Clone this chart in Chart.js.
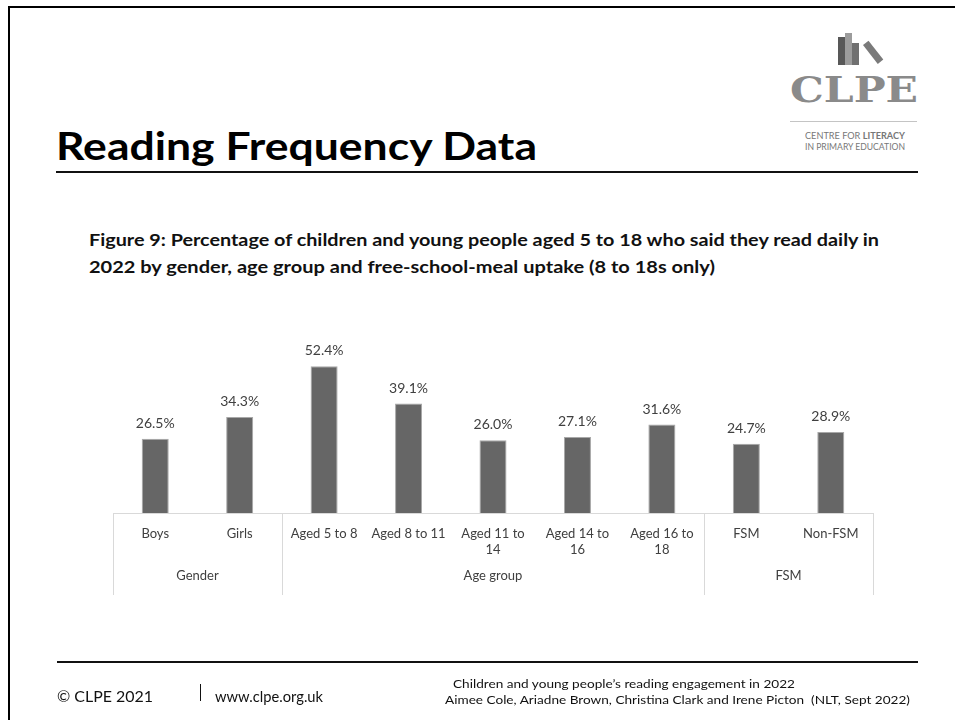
<!DOCTYPE html>
<html>
<head>
<meta charset="utf-8">
<script src="https://cdn.jsdelivr.net/npm/chart.js@4"></script>
<style>
  html, body { margin:0; padding:0; background:#fff; }
  body { width:955px; height:720px; position:relative; overflow:hidden; font-family: Lato, "Open Sans", sans-serif; }
  .abs { position:absolute; white-space:nowrap; line-height:1; }
  .fit { transform-origin: 0 0; }
  #chart { position:absolute; left:0; top:0; }
</style>
</head>
<body>
<!-- slide frame -->
<div class="abs" style="left:8px;top:6px;width:947px;height:2px;background:#000"></div>
<div class="abs" style="left:8px;top:6px;width:2px;height:714px;background:#000"></div>

<!-- title -->
<div class="abs fit" data-w="481" style="left:56px;top:126px;font-weight:700;font-size:39px;color:#000">Reading Frequency Data</div>
<div class="abs" style="left:56px;top:171px;width:862px;height:2px;background:#111"></div>

<!-- logo -->
<div class="abs" style="left:838px;top:37px;width:7px;height:28px;background:#585858"></div>
<div class="abs" style="left:845px;top:33px;width:7px;height:32px;background:#9c9c9c"></div>
<div class="abs" style="left:852px;top:43px;width:7px;height:22px;background:#707070"></div>
<div class="abs" style="left:863px;top:45px;width:7px;height:24px;background:#7a7a7a;transform:rotate(-38deg);transform-origin:0 0"></div>
<div class="abs fit" data-w="128" style="left:790px;top:72px;font-family:'DejaVu Serif',serif;font-weight:700;font-size:35px;color:#8a8a8a">CLPE</div>
<div class="abs" style="left:790px;top:121px;width:127px;height:1px;background:#c4c4c4"></div>
<div class="abs fit" data-w="100" style="left:805px;top:131px;font-size:9px;color:#777">CENTRE FOR <b>LITERACY</b></div>
<div class="abs fit" data-w="100" style="left:805px;top:142px;font-size:9px;color:#777">IN PRIMARY EDUCATION</div>

<!-- caption -->
<div class="abs fit" data-w="790" style="left:89px;top:231px;font-weight:700;font-size:17px;color:#111">Figure 9: Percentage of children and young people aged 5 to 18 who said they read daily in</div>
<div class="abs fit" data-w="626" style="left:89px;top:258px;font-weight:700;font-size:17px;color:#111">2022 by gender, age group and free-school-meal uptake (8 to 18s only)</div>

<canvas id="chart" width="955" height="720"></canvas>

<!-- footer -->
<div class="abs" style="left:57px;top:661px;width:861px;height:2px;background:#111"></div>
<div class="abs fit" data-w="96" style="left:57px;top:689px;font-size:15px;color:#111">© CLPE 2021</div>
<div class="abs" style="left:200px;top:684px;width:1px;height:17px;background:#111"></div>
<div class="abs fit" data-w="108" style="left:215px;top:689px;font-size:15px;color:#111">www.clpe.org.uk</div>
<div class="abs fit" data-w="342" style="left:453px;top:678px;font-size:12px;color:#111">Children and young people’s reading engagement in 2022</div>
<div class="abs fit" data-w="465" style="left:445px;top:694px;font-size:12px;color:#111">Aimee Cole, Ariadne Brown, Christina Clark and Irene Picton&nbsp; (NLT, Sept 2022)</div>

<script>
// ---- data ----
const categories = ['Boys', 'Girls', 'Aged 5 to 8', 'Aged 8 to 11', ['Aged 11 to', '14'], ['Aged 14 to', '16'], ['Aged 16 to', '18'], 'FSM', 'Non-FSM'];
const values = [26.5, 34.3, 52.4, 39.1, 26.0, 27.1, 31.6, 24.7, 28.9];
const groups = ['Gender', 'Age group', 'FSM'];
const groupSizes = [2, 5, 2];

// horizontally fit texts to measured widths
document.querySelectorAll('.fit').forEach(el => {
  const target = parseFloat(el.dataset.w);
  const w = el.getBoundingClientRect().width;
  el.style.transform = 'scaleX(' + (target / w) + ')';
});

const FONT = 'Lato, "Open Sans", sans-serif';
const LINE = '#d9d9d9';
const TXT = '#404040';

const valueLabels = {
  id: 'valueLabels',
  afterDatasetsDraw(chart) {
    const ctx = chart.ctx;
    const meta = chart.getDatasetMeta(0);
    ctx.save();
    ctx.font = '14px ' + FONT;
    ctx.fillStyle = TXT;
    ctx.textAlign = 'center';
    ctx.textBaseline = 'alphabetic';
    meta.data.forEach((bar, i) => {
      ctx.fillText(values[i].toFixed(1) + '%', bar.x, bar.y - 11);
    });
    ctx.restore();
  }
};

const groupAxis = {
  id: 'groupAxis',
  afterDraw(chart) {
    const ctx = chart.ctx;
    const xs = chart.scales.x;
    const area = chart.chartArea;
    const base = area.bottom;
    const half = (xs.getPixelForValue(1) - xs.getPixelForValue(0)) / 2;
    ctx.save();
    ctx.strokeStyle = LINE;
    ctx.lineWidth = 1;
    ctx.beginPath();
    ctx.moveTo(area.left, base + 0.5);
    ctx.lineTo(area.right, base + 0.5);
    ctx.stroke();
    ctx.font = '13px ' + FONT;
    ctx.fillStyle = TXT;
    ctx.textAlign = 'center';
    ctx.textBaseline = 'middle';
    categories.forEach((c, i) => {
      const x = xs.getPixelForValue(i);
      const lines = Array.isArray(c) ? c : [c];
      lines.forEach((l, j) => ctx.fillText(l, x, base + 21 + j * 16));
    });
    let start = 0;
    const bounds = [];
    groups.forEach((g, k) => {
      const end = start + groupSizes[k] - 1;
      const x0 = xs.getPixelForValue(start) - half;
      const x1 = xs.getPixelForValue(end) + half;
      bounds.push(x0, x1);
      ctx.fillText(g, (x0 + x1) / 2, base + 63);
      start = end + 1;
    });
    ctx.beginPath();
    [...new Set(bounds.map(b => Math.round(b)))].forEach(b => {
      ctx.moveTo(b + 0.5, base);
      ctx.lineTo(b + 0.5, base + 82);
    });
    ctx.stroke();
    ctx.restore();
  }
};

new Chart(document.getElementById('chart'), {
  type: 'bar',
  data: {
    labels: categories,
    datasets: [{
      data: values,
      backgroundColor: '#666666',
      borderColor: '#a8a8a8',
      borderWidth: 1,
      categoryPercentage: 1,
      barPercentage: 0.32
    }]
  },
  options: {
    responsive: false,
    animation: false,
    events: [],
    layout: { padding: { left: 113, right: 82, top: 345, bottom: 207 } },
    plugins: { legend: { display: false }, tooltip: { enabled: false } },
    scales: {
      x: { display: false },
      y: { display: false, min: 0, max: 60 }
    }
  },
  plugins: [valueLabels, groupAxis]
});
</script>
</body>
</html>
